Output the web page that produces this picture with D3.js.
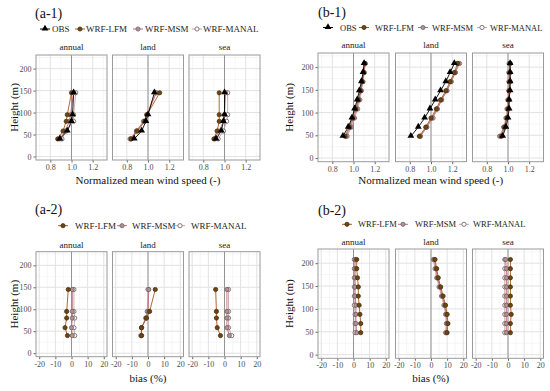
<!DOCTYPE html>
<html lang="en">
<head>
    <meta charset="UTF-8">
    <title>Wind profiles</title>
    <script src="https://d3js.org/d3.v7.min.js"></script>
    <style>
        body { margin: 0; background: #fff; }
        svg text { font-family: "Liberation Serif", serif; font-weight: normal; }
    </style>
</head>
<body>
<div id="fig"></div>
<script>
    // ------------------------------- data -------------------------------
    const facets = ["annual", "land", "sea"];
    const seriesAll = ["OBS", "WRF-LFM", "WRF-MSM", "WRF-MANAL"];
    const seriesWrf = ["WRF-LFM", "WRF-MSM", "WRF-MANAL"];

    const heightsA = [40, 58, 80, 95, 145];
    const heightsB = [48, 68, 88, 108, 128, 148, 168, 188, 208];

    const windTicks = [0.8, 1.0, 1.2];
    const windMinor = [0.7, 0.9, 1.1, 1.3];
    const biasTicks = [-20, -10, 0, 10, 20];
    const biasMinor = [-15, -5, 5, 15];
    const heightTicks = [0, 50, 100, 150, 200];
    const heightMinor = [25, 75, 125, 175, 225];

    // (a-1) normalized mean wind speed, one row per facet (annual, land, sea)
    const a1OBS   = [[0.89, 0.96, 1.00, 1.01, 1.02], [0.87, 0.94, 0.98, 1.00, 1.06], [0.92, 0.97, 0.99, 1.00, 1.00]];
    const a1LFM   = [[0.87, 0.92, 0.95, 0.96, 1.00], [0.84, 0.90, 0.97, 0.99, 1.11], [0.90, 0.93, 0.95, 0.95, 0.95]];
    const a1MSM   = [[0.89, 0.94, 0.98, 0.99, 1.02], [0.84, 0.89, 0.96, 0.99, 1.08], [0.91, 0.95, 0.99, 1.00, 1.01]];
    const a1MANAL = [[0.91, 0.95, 1.02, 1.02, 1.04], [0.83, 0.89, 0.96, 0.99, 1.07], [0.94, 0.99, 1.02, 1.03, 1.03]];

    // (b-1)
    const b1OBS   = [[0.90, 0.95, 0.985, 1.01, 1.035, 1.055, 1.075, 1.09, 1.10],
                     [0.81, 0.88, 0.94, 0.99, 1.04, 1.09, 1.14, 1.18, 1.22],
                     [0.95, 0.98, 1.00, 1.01, 1.01, 1.02, 1.02, 1.02, 1.02]];
    const b1LFM   = [[0.92, 0.96, 0.99, 1.02, 1.045, 1.065, 1.08, 1.095, 1.105],
                     [0.89, 0.95, 1.00, 1.05, 1.09, 1.14, 1.18, 1.22, 1.25],
                     [0.94, 0.97, 0.99, 1.00, 1.01, 1.01, 1.02, 1.02, 1.02]];
    const b1MSM   = [[0.93, 0.97, 1.00, 1.03, 1.05, 1.07, 1.085, 1.10, 1.11],
                     [0.90, 0.96, 1.01, 1.06, 1.10, 1.15, 1.19, 1.23, 1.26],
                     [0.93, 0.96, 0.99, 1.00, 1.00, 1.01, 1.01, 1.01, 1.02]];
    const b1MANAL = [[0.94, 0.98, 1.01, 1.04, 1.06, 1.075, 1.09, 1.10, 1.11],
                     [0.90, 0.96, 1.02, 1.06, 1.10, 1.15, 1.19, 1.23, 1.27],
                     [0.92, 0.96, 0.98, 0.99, 1.00, 1.01, 1.01, 1.01, 1.01]];

    // (a-2) bias (%)
    const a2LFM   = [[-2.5, -4, -3, -3, -2], [-4, -4, -1, 1, 4.5], [-2.5, -4.5, -5, -5, -5.5]];
    const a2MSM   = [[0.5, 0, 0.5, 0.5, 0.5], [-4, -4, -1, 0, 0.5], [3, 1.5, 1.5, 1.5, 1.5]];
    const a2MANAL = [[2, 1.5, 2, 1.5, 1.5], [-4.5, -4, -1.5, -0.5, 0], [4.5, 2.5, 2.5, 2.5, 2.5]];

    // (b-2)
    const b2LFM   = [[4.5, 4.5, 4, 3.5, 3, 3, 2.5, 2, 2],
                     [10, 10.5, 10, 9, 7.5, 6, 4.5, 3.5, 2.5],
                     [1.5, 1.5, 2, 1.5, 1.5, 1.5, 1.5, 1.5, 1.5]];
    const b2MSM   = [[2, 1.5, 1.5, 1.5, 1, 1, 1, 1, 1],
                     [9.5, 10, 9.5, 8.5, 7, 5.5, 4, 3, 2],
                     [-1, -1, -1, -1, -1, -1, -1, -1, -1.5]];
    const b2MANAL = [[1, 1, 1, 0.5, 0.5, 0.5, 0.5, 0.5, 0.5],
                     [9, 9.5, 9, 8, 6.5, 5, 3.5, 2.5, 1.5],
                     [-2, -2, -2, -2, -2, -2, -2, -2, -2]];

    // ------------------------------- styles -------------------------------
    const styles = {
        "OBS":       { tri: true,  fill: "#000",    stroke: "#000",    line: "#000" },
        "WRF-LFM":   { tri: false, fill: "#6b4614", stroke: "#4a2f08", line: "#a8581e" },
        "WRF-MSM":   { tri: false, fill: "#a39797", stroke: "#7a5c5c", line: "#c46a7c" },
        "WRF-MANAL": { tri: false, fill: "#fff",    stroke: "#6a5555", line: "#c9a2a8" }
    };
    const FONT = "Liberation Serif";

    const svg = d3.select("#fig").append("svg").attr("width", 550).attr("height", 391)
        .attr("font-family", FONT);

    function drawPoint(g, name, x, y) {
        const s = styles[name];
        if (s.tri) {
            g.append("path").attr("d", d3.symbol(d3.symbolTriangle, 20)())
                .attr("transform", "translate(" + x + "," + (y - 0.4) + ")")
                .attr("fill", s.fill);
        } else {
            g.append("circle").attr("cx", x).attr("cy", y).attr("r", 2.1)
                .attr("fill", s.fill).attr("stroke", s.stroke).attr("stroke-width", 0.8);
        }
    }

    // ------------------------------- one block (a-1, b-1, ...) -------------------------------
    function drawBlock(o) {
        const g = svg.append("g");

        g.append("text").attr("x", o.titleX).attr("y", o.titleY).attr("font-family", FONT)
            .attr("font-size", 14).attr("fill", "#111").text(o.title);

        // legend
        o.legend.forEach((name, i) => {
            const sx = o.legendSym[i];
            g.append("line").attr("x1", sx - 5).attr("x2", sx + 5)
                .attr("y1", o.legendY).attr("y2", o.legendY)
                .attr("stroke", styles[name].line).attr("stroke-width", 1);
            drawPoint(g, name, sx, o.legendY);
            g.append("text").attr("x", o.legendTxt[i]).attr("y", o.legendY + 3).attr("font-family", FONT)
                .attr("font-size", o.legendSize).attr("fill", "#222").text(name);
        });

        const y = d3.scaleLinear().domain([-8, 231]).range([o.bottom, o.top]);

        facets.forEach((f, k) => {
            const left = o.lefts[k];
            const x = d3.scaleLinear().domain(o.xDomain).range([left, left + o.width]);
            const p = g.append("g");

            p.append("text").attr("x", left + o.width / 2).attr("y", o.stripY).attr("font-family", FONT)
                .attr("text-anchor", "middle").attr("font-size", 9).attr("fill", "#1a1a1a").text(f);

            // grid
            o.xMinor.forEach(v => p.append("line").attr("x1", x(v)).attr("x2", x(v))
                .attr("y1", o.top).attr("y2", o.bottom).attr("stroke", "#f0f0f0").attr("stroke-width", 0.6));
            heightMinor.forEach(v => p.append("line").attr("x1", left).attr("x2", left + o.width)
                .attr("y1", y(v)).attr("y2", y(v)).attr("stroke", "#f0f0f0").attr("stroke-width", 0.6));
            o.xTicks.forEach(v => p.append("line").attr("x1", x(v)).attr("x2", x(v))
                .attr("y1", o.top).attr("y2", o.bottom).attr("stroke", "#e2e2e2").attr("stroke-width", 1));
            heightTicks.forEach(v => p.append("line").attr("x1", left).attr("x2", left + o.width)
                .attr("y1", y(v)).attr("y2", y(v)).attr("stroke", "#e2e2e2").attr("stroke-width", 1));

            // reference line
            p.append("line").attr("x1", x(o.xRef)).attr("x2", x(o.xRef))
                .attr("y1", o.top).attr("y2", o.bottom).attr("stroke", "#8a8a8a").attr("stroke-width", 0.9);

            // x axis
            const ax = p.append("g").attr("transform", "translate(0," + o.bottom + ")")
                .call(d3.axisBottom(x).tickValues(o.xTicks).tickSize(2.5).tickPadding(2)
                    .tickFormat(o.xFormat));
            ax.attr("font-family", FONT);
            ax.select(".domain").remove();
            ax.selectAll("line").attr("stroke", "#666");
            ax.selectAll("text").attr("font-size", 8).attr("fill", "#4d4d4d");

            if (k === 0) {
                const ay = p.append("g").attr("transform", "translate(" + left + ",0)")
                    .call(d3.axisLeft(y).tickValues(heightTicks).tickSize(2.5).tickPadding(2));
                ay.attr("font-family", FONT);
                ay.select(".domain").remove();
                ay.selectAll("line").attr("stroke", "#666");
                ay.selectAll("text").attr("font-size", 8).attr("fill", "#4d4d4d");
            }

            // series: lines then points, OBS drawn last
            const order = o.series.slice().reverse();
            order.forEach(s => {
                const pts = s.values[k].map((v, i) => [x(v), y(o.heights[i])]);
                p.append("path").attr("d", d3.line()(pts)).attr("fill", "none")
                    .attr("stroke", styles[s.name].line).attr("stroke-width", 0.9);
            });
            order.forEach(s => {
                s.values[k].forEach((v, i) => drawPoint(p, s.name, x(v), y(o.heights[i])));
            });

            // panel border
            p.append("rect").attr("x", left).attr("y", o.top).attr("width", o.width)
                .attr("height", o.bottom - o.top).attr("fill", "none")
                .attr("stroke", "#9a9a9a").attr("stroke-width", 1);
        });

        // axis titles
        g.append("text").attr("transform", "translate(" + o.yTitleX + "," + (o.top + o.bottom) / 2 + ") rotate(-90)")
            .attr("font-family", FONT)
            .attr("text-anchor", "middle").attr("font-size", 11).attr("fill", "#111").text("Height (m)");
        g.append("text").attr("x", (o.lefts[0] + o.lefts[2] + o.width) / 2).attr("y", o.xTitleY)
            .attr("font-family", FONT)
            .attr("text-anchor", "middle").attr("font-size", 11).attr("fill", "#111").text(o.xTitle);
    }

    const windFmt = d3.format(".1f");
    const biasFmt = d => d;

    drawBlock({
        title: "(a-1)", titleX: 35, titleY: 18,
        legend: seriesAll, legendY: 29, legendSize: 9,
        legendSym: [45, 80, 138, 197], legendTxt: [52, 86, 145, 203],
        stripY: 50, lefts: [36, 112.5, 189], width: 71, top: 55, bottom: 160,
        xDomain: [0.665, 1.335], xTicks: windTicks, xMinor: windMinor, xRef: 1, xFormat: windFmt,
        xTitle: "Normalized mean wind speed (-)", xTitleY: 184, yTitleX: 17.5,
        heights: heightsA,
        series: [{ name: "OBS", values: a1OBS }, { name: "WRF-LFM", values: a1LFM },
                 { name: "WRF-MSM", values: a1MSM }, { name: "WRF-MANAL", values: a1MANAL }]
    });

    drawBlock({
        title: "(b-1)", titleX: 318, titleY: 17,
        legend: seriesAll, legendY: 27.5, legendSize: 8.5,
        legendSym: [328, 364, 423, 482], legendTxt: [340, 375, 432, 490],
        stripY: 48, lefts: [318, 395.5, 472.5], width: 71, top: 53, bottom: 161.7,
        xDomain: [0.665, 1.335], xTicks: windTicks, xMinor: windMinor, xRef: 1, xFormat: windFmt,
        xTitle: "Normalized mean wind speed (-)", xTitleY: 184, yTitleX: 292.5,
        heights: heightsB,
        series: [{ name: "OBS", values: b1OBS }, { name: "WRF-LFM", values: b1LFM },
                 { name: "WRF-MSM", values: b1MSM }, { name: "WRF-MANAL", values: b1MANAL }]
    });

    drawBlock({
        title: "(a-2)", titleX: 35, titleY: 214,
        legend: seriesWrf, legendY: 225.7, legendSize: 9,
        legendSym: [63, 122, 180], legendTxt: [75, 132, 191],
        stripY: 248, lefts: [36, 112.5, 189], width: 71, top: 251.7, bottom: 356.7,
        xDomain: [-22, 22], xTicks: biasTicks, xMinor: biasMinor, xRef: 0, xFormat: biasFmt,
        xTitle: "bias (%)", xTitleY: 382, yTitleX: 17.5,
        heights: heightsA,
        series: [{ name: "WRF-LFM", values: a2LFM }, { name: "WRF-MSM", values: a2MSM },
                 { name: "WRF-MANAL", values: a2MANAL }]
    });

    drawBlock({
        title: "(b-2)", titleX: 318, titleY: 215,
        legend: seriesWrf, legendY: 224.3, legendSize: 8.5,
        legendSym: [347, 403, 464], legendTxt: [358, 415, 473],
        stripY: 245, lefts: [318, 395.5, 472.5], width: 71, top: 249, bottom: 358.3,
        xDomain: [-22, 22], xTicks: biasTicks, xMinor: biasMinor, xRef: 0, xFormat: biasFmt,
        xTitle: "bias (%)", xTitleY: 382, yTitleX: 292.5,
        heights: heightsB,
        series: [{ name: "WRF-LFM", values: b2LFM }, { name: "WRF-MSM", values: b2MSM },
                 { name: "WRF-MANAL", values: b2MANAL }]
    });
</script>
</body>
</html>
